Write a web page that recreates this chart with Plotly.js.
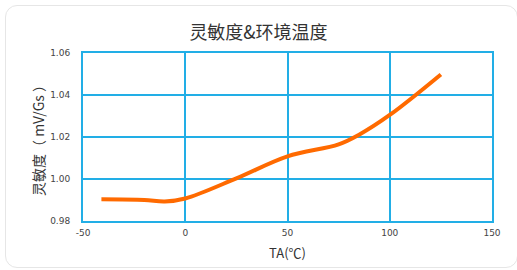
<!DOCTYPE html>
<html>
<head>
<meta charset="utf-8">
<script src="https://cdn.plot.ly/plotly-3.0.1.min.js"></script>
<style>
html,body{margin:0;padding:0;background:#fff;}
#card{position:absolute;left:5px;top:5px;width:513px;height:263px;border:1.5px solid #e6e6e6;border-radius:12px;box-sizing:border-box;}
#chart{position:absolute;left:0;top:0;width:517px;height:270px;}
</style>
</head>
<body>
<div id="card"></div>
<div id="chart"></div>
<script>
const temperature = [-41, -20, -10, 0, 25, 50, 75, 85, 100, 125];
const sensitivity = [0.9903, 0.9900, 0.9893, 0.9907, 1.0003, 1.0108, 1.0165, 1.0211, 1.0305, 1.0498];
const xTicks = [-50, 0, 50, 100, 150];
const yTicks = [0.98, 1.00, 1.02, 1.04, 1.06];
const yTickText = ['0.98', '1.00', '1.02', '1.04', '1.06'];

const gridColor = '#22aee6';
const trace = {
  x: temperature, y: sensitivity, type: 'scatter', mode: 'lines',
  line: {color: '#ff6a00', width: 4, shape: 'spline', smoothing: 1},
  hoverinfo: 'skip'
};
const layout = {
  width: 517, height: 270,
  paper_bgcolor: 'rgba(0,0,0,0)', plot_bgcolor: 'rgba(0,0,0,0)',
  margin: {l: 83, r: 25, t: 53, b: 49},
  showlegend: false,
  title: {text: '灵敏度&环境温度', x: 0.5, xanchor: 'center', y: 0.878, yanchor: 'middle',
    font: {family: 'Noto Sans CJK SC', size: 18, color: '#333'}},
  xaxis: {
    range: [-50, 150], tickvals: xTicks, ticktext: xTicks.map(String),
    showgrid: true, gridcolor: gridColor, gridwidth: 2,
    showline: true, linecolor: gridColor, linewidth: 2, mirror: true,
    zeroline: false, ticks: '', ticklabelstandoff: 2,
    tickfont: {family: 'DejaVu Sans', size: 9, color: '#444'},
    title: {text: 'TA(℃)', standoff: 12, font: {family: 'Noto Sans CJK SC', size: 13, color: '#333'}}
  },
  yaxis: {
    range: [0.98, 1.06], tickvals: yTicks, ticktext: yTickText,
    showgrid: true, gridcolor: gridColor, gridwidth: 2,
    showline: true, linecolor: gridColor, linewidth: 2, mirror: true,
    zeroline: false, ticks: '', ticklabelstandoff: 9,
    tickfont: {family: 'DejaVu Sans', size: 9, color: '#444'},
    title: {text: '灵敏度（ mV/Gs ）', standoff: 2, font: {family: 'Noto Sans CJK SC', size: 14, color: '#333'}}
  }
};
Plotly.newPlot('chart', [trace], layout, {staticPlot: true, displayModeBar: false});
</script>
</body>
</html>
